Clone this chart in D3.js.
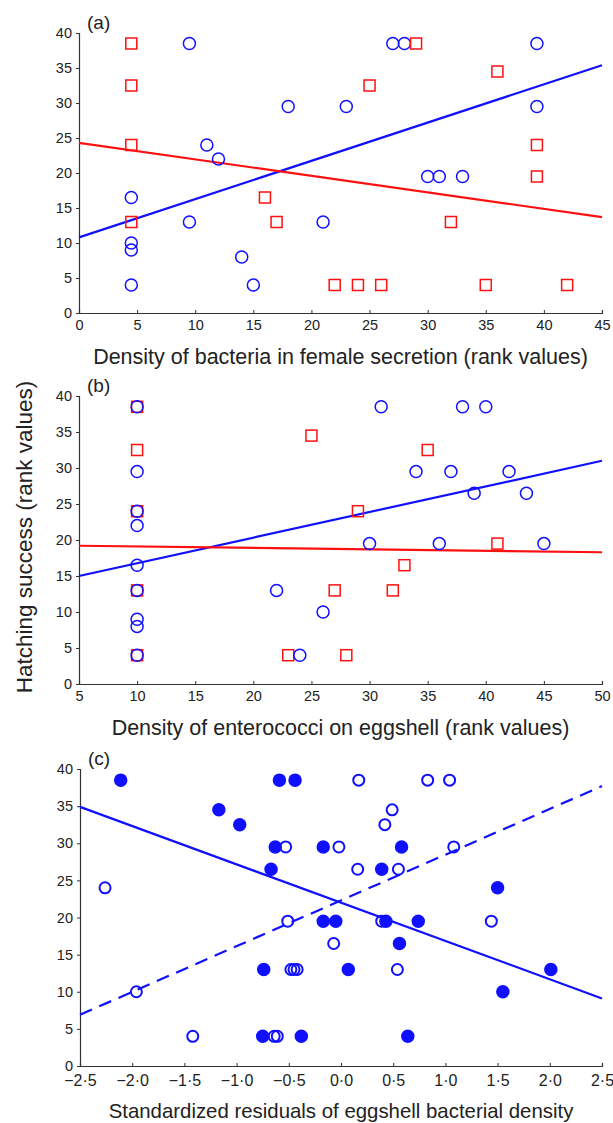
<!DOCTYPE html>
<html>
<head>
  <meta charset="UTF-8" />
  <title>Hatching success</title>
  <script src="https://d3js.org/d3.v7.min.js"></script>
  <style>
    body { margin: 0; background: #fff; }
    text { font-family: "Liberation Sans", Arial, sans-serif; fill: #222; }
  </style>
</head>
<body>
<div id="chart"></div>
<script>
  // panel (a) - bacteria in female secretion
  const aBlueX = [9.5, 18, 11, 12, 4.5, 9.5, 4.5, 4.5, 4.5, 14, 15, 21, 27, 28, 23, 39.4, 39.4, 30, 31, 33];
  const aBlueY = [38.5, 29.5, 24, 22, 16.5, 13, 10, 9, 4, 8, 4, 13, 38.5, 38.5, 29.5, 38.5, 29.5, 19.5, 19.5, 19.5];
  const aRedX = [4.5, 4.5, 4.5, 4.5, 16, 17, 29, 25, 36, 39.4, 39.4, 32, 22, 24, 26, 35, 42];
  const aRedY = [38.5, 32.5, 24, 13, 16.5, 13, 38.5, 32.5, 34.5, 24, 19.5, 13, 4, 4, 4, 4, 4];
  const aBlueFit = [[0, 10.8], [45, 35.4]];
  const aRedFit = [[0, 24.3], [45, 13.7]];
  const aTicksX = [0, 5, 10, 15, 20, 25, 30, 35, 40, 45];

  // panel (b) - enterococci on eggshell
  const bBlueX = [10, 10, 10, 10, 10, 10, 10, 10, 10, 22, 24, 26, 31, 38, 40, 34, 37, 42, 39, 43.5, 30, 36, 45];
  const bBlueY = [38.5, 29.5, 24, 22, 16.5, 13, 9, 8, 4, 13, 4, 10, 38.5, 38.5, 38.5, 29.5, 29.5, 29.5, 26.5, 26.5, 19.5, 19.5, 19.5];
  const bRedX = [10, 10, 10, 10, 10, 25, 23, 35, 29, 41, 33, 27, 32, 28];
  const bRedY = [38.5, 32.5, 24, 13, 4, 34.5, 4, 32.5, 24, 19.5, 16.5, 13, 13, 4];
  const bBlueFit = [[5, 15.0], [50, 31.0]];
  const bRedFit = [[5, 19.2], [50, 18.3]];
  const bTicksX = [5, 10, 15, 20, 25, 30, 35, 40, 45, 50];

  // panel (c) - standardized residuals
  const cFilledX = [-2.11, -0.59, -0.44, -1.17, -0.97, -0.63, -0.17, 0.58, -0.67, 0.39, 1.5, -0.17, -0.05, 0.43, 0.74, 0.56, -0.74, 0.07, 2.01, 1.55, -0.75, -0.38, 0.64];
  const cFilledY = [38.5, 38.5, 38.5, 34.5, 32.5, 29.5, 29.5, 29.5, 26.5, 26.5, 24, 19.5, 19.5, 19.5, 19.5, 16.5, 13, 13, 13, 10, 4, 4, 4];
  const cOpenX = [-2.26, -0.53, -0.51, -1.96, -1.42, -0.64, -0.61, -0.48, -0.45, -0.42, 0.17, 0.83, 1.04, 0.49, 0.42, -0.02, 1.08, 0.16, 0.55, 0.39, 1.44, -0.07, 0.54];
  const cOpenY = [24, 29.5, 19.5, 10, 4, 4, 4, 13, 13, 13, 38.5, 38.5, 38.5, 34.5, 32.5, 29.5, 29.5, 26.5, 26.5, 19.5, 19.5, 16.5, 13];
  const cSolidFit = [[-2.5, 34.9], [2.5, 9.1]];
  const cDashFit = [[-2.5, 6.9], [2.5, 37.7]];
  const cTicksX = [-2.5, -2, -1.5, -1, -0.5, 0, 0.5, 1, 1.5, 2, 2.5];

  const yTicks = [0, 5, 10, 15, 20, 25, 30, 35, 40];

  const BLUE = "#1010ff";
  const RED = "#ff1010";

  const svg = d3.select("#chart").append("svg")
    .attr("width", 613)
    .attr("height", 1123);

  function zip(xs, ys) { return xs.map((x, i) => [x, ys[i]]); }

  function drawPanel(p) {
    const x = d3.scaleLinear().domain(p.xDomain).range([p.left, 602]);
    const y = d3.scaleLinear().domain([0, 40]).range([p.bottom, p.top]);
    const g = svg.append("g");

    g.append("g")
      .attr("transform", "translate(0," + p.bottom + ")")
      .call(d3.axisBottom(x).tickValues(p.xTicks).tickSize(-3).tickPadding(p.xPad || 7).tickFormat(p.fmt))
      .call(a => a.select(".domain").attr("stroke", "#333").attr("stroke-width", 1.2))
      .call(a => a.selectAll(".tick line").attr("stroke", "#333"))
      .call(a => a.selectAll("text").attr("font-size", p.xTickSize || 14.5).attr("font-family", "Liberation Sans, Arial").attr("fill", "#222"));

    g.append("g")
      .attr("transform", "translate(" + p.left + ",0)")
      .call(d3.axisLeft(y).tickValues(yTicks).tickSize(3).tickPadding(4))
      .call(a => a.select(".domain").attr("stroke", "#333").attr("stroke-width", 1.2))
      .call(a => a.selectAll(".tick line").attr("stroke", "#333"))
      .call(a => a.selectAll("text").attr("font-size", 14.5).attr("font-family", "Liberation Sans, Arial").attr("fill", "#222"));

    g.append("text")
      .attr("x", p.left + 8)
      .attr("y", p.top - 4)
      .attr("font-size", 19)
      .text(p.label);

    g.append("text")
      .attr("x", (p.left + 602) / 2)
      .attr("y", p.bottom + p.titleDy)
      .attr("text-anchor", "middle")
      .attr("font-size", p.titleSize)
      .text(p.title);

    const line = d3.line().x(d => x(d[0])).y(d => y(d[1]));
    p.lines.forEach(l => {
      g.append("path")
        .attr("d", line(l.pts))
        .attr("fill", "none")
        .attr("stroke", l.color)
        .attr("stroke-width", 2.2)
        .attr("stroke-dasharray", l.dash || null);
    });

    p.series.forEach(s => {
      const pts = zip(s.xs, s.ys);
      if (s.shape === "square") {
        g.selectAll(null).data(pts).enter().append("rect")
          .attr("x", d => x(d[0]) - 5.5)
          .attr("y", d => y(d[1]) - 5.5)
          .attr("width", 11)
          .attr("height", 11)
          .attr("fill", "none")
          .attr("stroke", s.color)
          .attr("stroke-width", 1.5);
      } else {
        g.selectAll(null).data(pts).enter().append("circle")
          .attr("cx", d => x(d[0]))
          .attr("cy", d => y(d[1]))
          .attr("r", s.r || 6)
          .attr("fill", s.filled ? s.color : "none")
          .attr("stroke", s.color)
          .attr("stroke-width", s.sw || 1.5);
      }
    });
  }

  // journal style: real minus, a little gap, raised decimal dot
  const fmtC = d => d3.format(".1f")(d).replace("-", "\u2212\u2009").replace(".", "\u00b7");

  drawPanel({
    label: "(a)", top: 33, bottom: 313, left: 79, xDomain: [0, 45], xTicks: aTicksX,
    title: "Density of bacteria in female secretion (rank values)", titleDy: 51, titleSize: 21.5,
    lines: [{ pts: aBlueFit, color: BLUE }, { pts: aRedFit, color: RED }],
    series: [
      { xs: aBlueX, ys: aBlueY, color: BLUE, shape: "circle" },
      { xs: aRedX, ys: aRedY, color: RED, shape: "square" }
    ]
  });

  drawPanel({
    label: "(b)", top: 396, bottom: 684, left: 79, xDomain: [5, 50], xTicks: bTicksX,
    title: "Density of enterococci on eggshell (rank values)", titleDy: 51, titleSize: 21.5,
    lines: [{ pts: bBlueFit, color: BLUE }, { pts: bRedFit, color: RED }],
    series: [
      { xs: bRedX, ys: bRedY, color: RED, shape: "square" },
      { xs: bBlueX, ys: bBlueY, color: BLUE, shape: "circle" }
    ]
  });

  drawPanel({
    label: "(c)", top: 769, bottom: 1066, left: 80, xDomain: [-2.5, 2.5], xTicks: cTicksX, fmt: fmtC, xPad: 9, xTickSize: 16,
    title: "Standardized residuals of eggshell bacterial density", titleDy: 52, titleSize: 20.4,
    lines: [{ pts: cSolidFit, color: BLUE }, { pts: cDashFit, color: BLUE, dash: "13,8" }],
    series: [
      { xs: cOpenX, ys: cOpenY, color: BLUE, shape: "circle", r: 5.5, sw: 2 },
      { xs: cFilledX, ys: cFilledY, color: BLUE, shape: "circle", r: 6, filled: true }
    ]
  });

  // shared y title
  svg.append("text")
    .attr("transform", "translate(32,537) rotate(-90)")
    .attr("text-anchor", "middle")
    .attr("font-size", 22.5)
    .text("Hatching success (rank values)");
</script>
</body>
</html>
